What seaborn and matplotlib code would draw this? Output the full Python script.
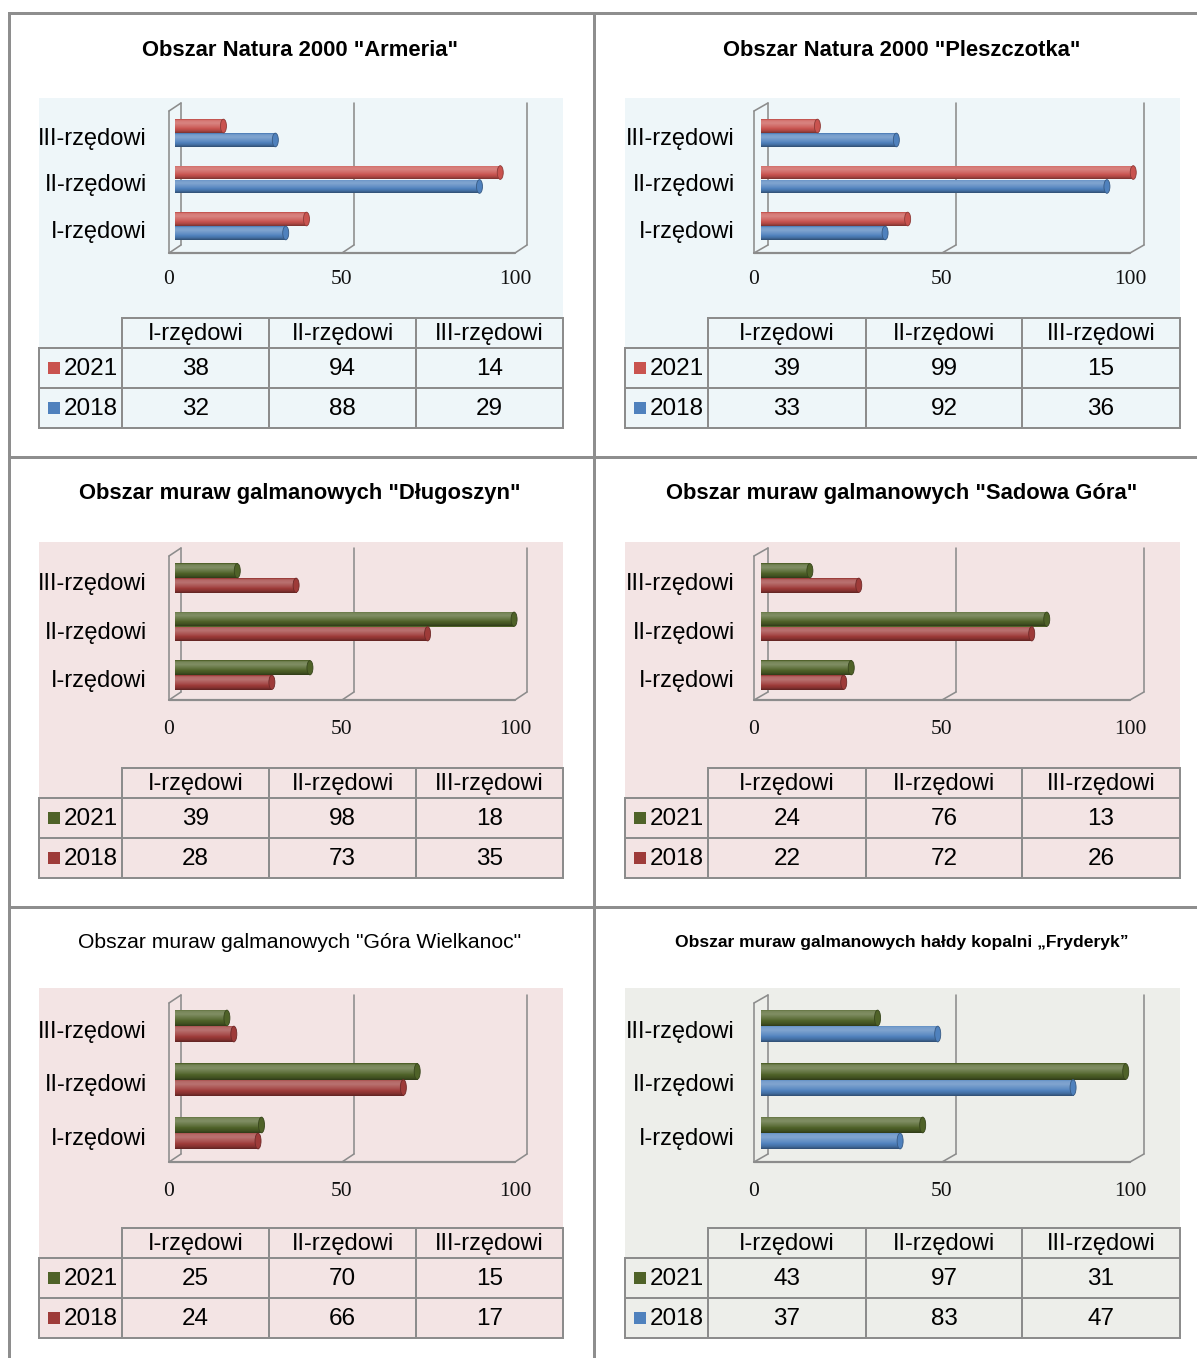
import numpy as np
import pandas as pd
import matplotlib
matplotlib.use("Agg")
import matplotlib.pyplot as plt
import seaborn as sns
from matplotlib import font_manager
from matplotlib.patches import Rectangle, Ellipse
from matplotlib.lines import Line2D
from matplotlib.colors import to_rgb

# ---------------------------------------------------------------- data
categories = ["III-rzędowi", "II-rzędowi", "I-rzędowi"]      # bar order, top to bottom
table_columns = ["I-rzędowi", "II-rzędowi", "III-rzędowi"]   # table order
years = ["2021", "2018"]
x_ticks = [0, 50, 100]

# values in table order: I, II, III
armeria_2021 = [38, 94, 14]
armeria_2018 = [32, 88, 29]
pleszczotka_2021 = [39, 99, 15]
pleszczotka_2018 = [33, 92, 36]
dlugoszyn_2021 = [39, 98, 18]
dlugoszyn_2018 = [28, 73, 35]
sadowa_2021 = [24, 76, 13]
sadowa_2018 = [22, 72, 26]
wielkanoc_2021 = [25, 70, 15]
wielkanoc_2018 = [24, 66, 17]
fryderyk_2021 = [43, 97, 31]
fryderyk_2018 = [37, 83, 47]

titles = [
    'Obszar Natura 2000 "Armeria"',
    'Obszar Natura 2000 "Pleszczotka"',
    'Obszar muraw galmanowych "Długoszyn"',
    'Obszar muraw galmanowych "Sadowa Góra"',
    'Obszar muraw galmanowych "Góra Wielkanoc"',
    "Obszar muraw galmanowych hałdy kopalni „Fryderyk”",
]

RED = "#C9534F"
BLUE = "#4F81BD"
GREEN = "#4F6228"
DARKRED = "#9E3B39"
BG_BLUE = "#EEF6F9"
BG_PINK = "#F3E4E4"
BG_GREY = "#EDEEEA"
LINE = "#8C8C8C"

panels = [
    dict(row=0, col=0, title=titles[0], v21=armeria_2021, v18=armeria_2018,
         colors=(RED, BLUE), bg=BG_BLUE, weight="bold", tsize=15.8),
    dict(row=0, col=1, title=titles[1], v21=pleszczotka_2021, v18=pleszczotka_2018,
         colors=(RED, BLUE), bg=BG_BLUE, weight="bold", tsize=15.8),
    dict(row=1, col=0, title=titles[2], v21=dlugoszyn_2021, v18=dlugoszyn_2018,
         colors=(GREEN, DARKRED), bg=BG_PINK, weight="bold", tsize=15.8),
    dict(row=1, col=1, title=titles[3], v21=sadowa_2021, v18=sadowa_2018,
         colors=(GREEN, DARKRED), bg=BG_PINK, weight="bold", tsize=15.8),
    dict(row=2, col=0, title=titles[4], v21=wielkanoc_2021, v18=wielkanoc_2018,
         colors=(GREEN, DARKRED), bg=BG_PINK, weight="normal", tsize=15.2),
    dict(row=2, col=1, title=titles[5], v21=fryderyk_2021, v18=fryderyk_2018,
         colors=(GREEN, BLUE), bg=BG_GREY, weight="bold", tsize=12.6),
]

# ---------------------------------------------------------------- layout (pixels)
W, H, DPI = 1197, 1358, 100

COLS = [
    dict(x0=175, k=3.46, dx=6, bg=(39, 563), tcols=[39, 122, 269, 416, 563], lab=147, tx=300),
    dict(x0=761, k=3.76, dx=7, bg=(625, 1180), tcols=[625, 708, 866, 1022, 1180], lab=735, tx=902),
]
ROWS = [
    dict(ty=50, bg=(98, 428), ftop=103, ffloor=253, c0=133, s=46.5, tick=280,
         trows=[318, 348, 388, 428]),
    dict(ty=494, bg=(542, 878), ftop=548, ffloor=700, c0=578, s=48.5, tick=730,
         trows=[768, 798, 838, 878]),
    dict(ty=942, bg=(988, 1338), ftop=995, ffloor=1162, c0=1026, s=53.5, tick=1191,
         trows=[1228, 1258, 1298, 1338]),
]
DY = 4  # vertical half-depth of the 3-D frame

# ---------------------------------------------------------------- fonts
sns.set_theme(style="white")
names = {f.name for f in font_manager.fontManager.ttflist}
NARROW = "Liberation Sans Narrow" if "Liberation Sans Narrow" in names else "Liberation Sans"
plt.rcParams["font.family"] = [NARROW, "DejaVu Sans"]

fig = plt.figure(figsize=(W / DPI, H / DPI), dpi=DPI)
fig.patch.set_facecolor("white")


def fx(x):
    return x / W


def fy(y):
    return 1 - y / H


def fig_line(x1, y1, x2, y2, lw=2.0, color=LINE, z=5):
    fig.add_artist(Line2D([fx(x1), fx(x2)], [fy(y1), fy(y2)], transform=fig.transFigure,
                          color=color, lw=lw * 72 / DPI, solid_capstyle="projecting", zorder=z))


def shade(color, f):
    c = np.array(to_rgb(color))
    return c + (1 - c) * f if f >= 0 else c * (1 + f)


def bar_gradient(color, n=64):
    t = np.linspace(0, 1, n)
    prof = np.interp(t, [0, 0.1, 0.3, 0.6, 0.85, 1.0], [-0.1, 0.22, 0.28, 0.08, -0.15, -0.4])
    rows = np.array([shade(color, f) for f in prof])
    return np.clip(rows[:, None, :], 0, 1)


# ---------------------------------------------------------------- page grid
fig_line(9, 13, 1197, 13, lw=3, color="#8E8E8E")
for yy in (457, 907):
    fig_line(9, yy, 1197, yy, lw=3, color="#8E8E8E")
for xx in (9, 594):
    fig_line(xx, 13, xx, 1358, lw=3, color="#8E8E8E")

# ---------------------------------------------------------------- panels
for p in panels:
    C = COLS[p["col"]]
    R = ROWS[p["row"]]
    x0, k, dx = C["x0"], C["k"], C["dx"]
    c0, s = R["c0"], R["s"]

    # background
    bl, br = C["bg"]
    bt, bb = R["bg"]
    fig.add_artist(Rectangle((fx(bl), fy(bb)), (br - bl) / W, (bb - bt) / H,
                             transform=fig.transFigure, facecolor=p["bg"],
                             edgecolor="none", zorder=0))

    # title
    fig.text(fx(C["tx"]), fy(R["ty"]), p["title"], ha="center", va="center",
             fontsize=p["tsize"], fontweight=p["weight"], color="black")

    # axes whose data space maps linearly onto the pixel grid
    left, right = x0 - 25, x0 + 100 * k + 25
    top, bottom = R["ftop"] - 10, R["ffloor"] + 10
    ax = fig.add_axes([fx(left), fy(bottom), (right - left) / W, (bottom - top) / H])
    ax.patch.set_alpha(0)

    df = pd.DataFrame({
        "kategoria": table_columns * 2,
        "rok": [years[0]] * 3 + [years[1]] * 3,
        "liczba": list(p["v21"]) + list(p["v18"]),
    })
    sns.barplot(data=df, y="kategoria", x="liczba", hue="rok", order=categories,
                hue_order=years, palette=list(p["colors"]), orient="h", width=0.6,
                saturation=1, legend=False, ax=ax, zorder=3, edgecolor="none")

    xlim = ((left - x0) / k, (right - x0) / k)
    ylim = ((bottom - c0) / s, (top - c0) / s)

    # cylinder-like shading of every bar
    bars = [b for b in ax.patches if isinstance(b, Rectangle) and b.get_width() > 0]
    for b in bars:
        bx, by, bw, bh = b.get_x(), b.get_y(), b.get_width(), b.get_height()
        col = b.get_facecolor()
        im = ax.imshow(bar_gradient(col[:3]), extent=(bx, bx + bw, by + bh, by),
                       aspect="auto", origin="upper", zorder=4, interpolation="bilinear")
        im.set_clip_path(b)
        cap = Ellipse((bx + bw, by + bh / 2), width=6 / k, height=bh * 0.98,
                      facecolor=shade(col[:3], 0.0), edgecolor=shade(col[:3], -0.3),
                      lw=0.6, zorder=5)
        ax.add_patch(cap)

    # 3-D frame
    ddx, ddy = dx / k, DY / s
    y_top = (R["ftop"] + DY - c0) / s
    y_floor = (R["ffloor"] - DY - c0) / s

    def back(v, y):
        return v + ddx, y - ddy

    def front(v, y):
        return v - ddx, y + ddy

    def seg(a, b, lw=1.6):
        ax.add_line(Line2D([a[0], b[0]], [a[1], b[1]], color=LINE, lw=lw * 72 / DPI,
                           zorder=2, clip_on=False))

    for v in x_ticks:
        seg(back(v, y_floor), back(v, y_top))
        seg(back(v, y_floor), front(v, y_floor))
    seg(front(0, y_floor), front(100, y_floor), lw=2.2)
    seg(front(0, y_floor), front(0, y_top))
    seg(front(0, y_top), back(0, y_top))

    # tick labels on the front edge
    ty = (R["tick"] - c0) / s
    for v in x_ticks:
        ax.text(v - ddx, ty, f"{v}", ha="center", va="center", fontsize=15.5,
                family=["Liberation Serif", "DejaVu Serif"], color="#111111", clip_on=False)

    # category labels
    for i, cat in enumerate(categories):
        ax.text((C["lab"] - x0) / k, i + 6 / s, cat, ha="right", va="center",
                fontsize=17, color="black", clip_on=False)

    ax.set_xlim(*xlim)
    ax.set_ylim(*ylim)
    ax.set_axis_off()

    # data table
    L, c1, c2, c3, Rr = C["tcols"]
    t0, t1, t2, t3 = R["trows"]
    xs = [c1, c2, c3, Rr]
    fig_line(c1, t0, Rr, t0)
    for yy in (t1, t2, t3):
        fig_line(L, yy, Rr, yy)
    fig_line(L, t1, L, t3)
    for xx in xs:
        fig_line(xx, t0, xx, t3)

    for j, name in enumerate(table_columns):
        fig.text(fx((xs[j] + xs[j + 1]) / 2), fy((t0 + t1) / 2 + 1), name,
                 ha="center", va="center", fontsize=17, color="black")
    for r_idx, (yr, vals, colr) in enumerate(zip(years, (p["v21"], p["v18"]), p["colors"])):
        ya, yb = (t1, t2) if r_idx == 0 else (t2, t3)
        ym = (ya + yb) / 2
        fig.add_artist(Rectangle((fx(L + 9), fy(ym + 6)), 12 / W, 12 / H,
                                 transform=fig.transFigure, facecolor=colr,
                                 edgecolor="none", zorder=6))
        fig.text(fx(L + 25), fy(ym + 1), yr, ha="left", va="center", fontsize=17.5,
                 color="black")
        for j, v in enumerate(vals):
            fig.text(fx((xs[j] + xs[j + 1]) / 2), fy(ym + 1), f"{v}",
                     ha="center", va="center", fontsize=17.5, color="black")

fig.savefig("out.png", dpi=DPI, facecolor="white")
